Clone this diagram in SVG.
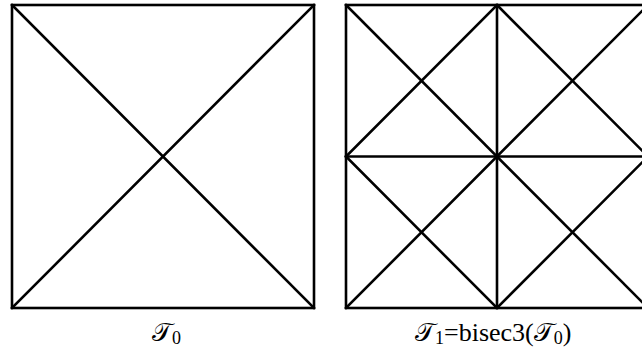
<svg xmlns="http://www.w3.org/2000/svg" width="642" height="349" viewBox="0 0 642 349">
<style>
.l{stroke:#000;stroke-width:2.6;fill:none;stroke-linecap:square}
.t{font-family:"Liberation Serif","DejaVu Serif",serif;font-size:26px;fill:#000}
.s{font-size:18px}
</style>
<rect width="642" height="349" fill="#fff"/>
<g id="T0">
<rect class="l" x="12" y="5" width="302" height="303"/>
<line class="l" x1="12" y1="5" x2="314" y2="308"/>
<line class="l" x1="12" y1="308" x2="314" y2="5"/>
</g>
<g id="T1">
<rect class="l" x="346" y="5" width="302" height="303"/>
<line class="l" x1="346" y1="5" x2="648" y2="308"/>
<line class="l" x1="346" y1="308" x2="648" y2="5"/>
<line class="l" x1="497" y1="5" x2="497" y2="308"/>
<line class="l" x1="346" y1="156.5" x2="648" y2="156.5"/>
<polygon class="l" points="497,5 648,156.5 497,308 346,156.5"/>
</g>
<g id="labels">
<text class="t" x="152" y="341">𝒯<tspan class="s" dy="3">0</tspan></text>
<text class="t" x="415" y="341">𝒯<tspan class="s" dy="3">1</tspan><tspan dy="-3">=bisec3(𝒯</tspan><tspan class="s" dy="3">0</tspan><tspan dy="-3">)</tspan></text>
</g>
</svg>
